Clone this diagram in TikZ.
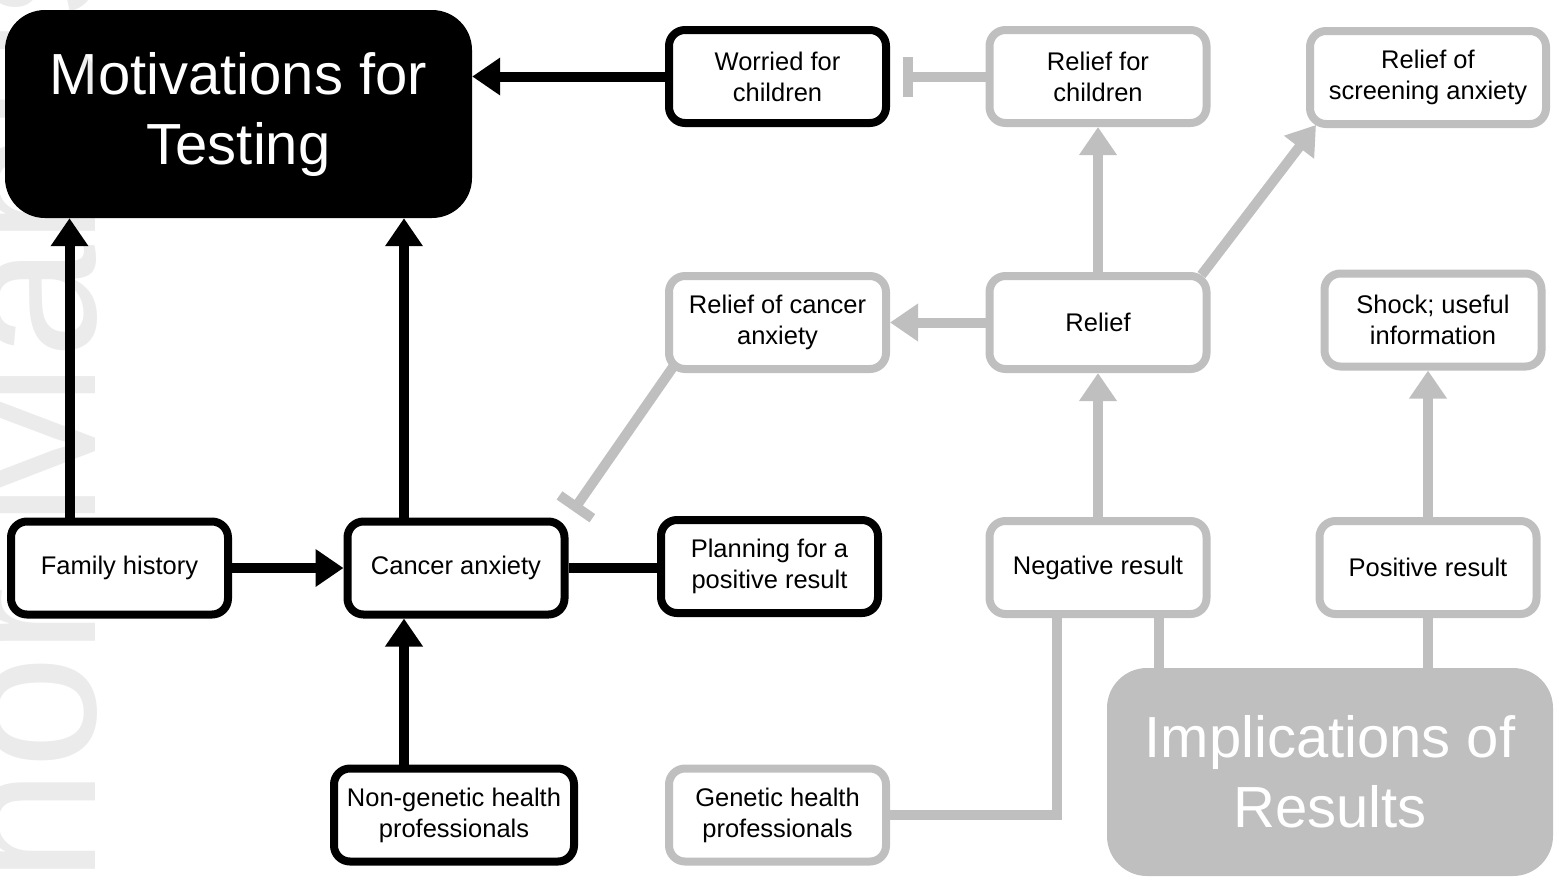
\documentclass[tikz,border=0pt]{standalone}
\usepackage{fontspec}
\setmainfont{Liberation Sans}
\usetikzlibrary{arrows.meta}
\definecolor{boxgray}{RGB}{191,191,191}

\begin{document}
\begin{tikzpicture}[x=1pt, y=-1pt]

        % --- Styles ---
        \tikzset{
            bigbox/.style={rounded corners=40pt, align=center, text=white, minimum width=467pt, minimum height=208pt, font=\fontsize{58}{70}\selectfont},
            box/.style={line width=8pt, rounded corners=16pt, fill=white, align=center, minimum width=217pt, minimum height=93pt, font=\fontsize{25.5}{31}\selectfont},
            blackbox/.style={box, draw=black},
            graybox/.style={box, draw=boxgray},
            % Styles des connecteurs
            blackarrow/.style={line width=10pt, draw=black, -{Triangle[length=28pt, width=36pt]}},
            blackline/.style={line width=10pt, draw=black},
            grayarrow/.style={line width=10pt, draw=boxgray, -{Triangle[length=28pt, width=36pt]}},
            grayline/.style={line width=10pt, draw=boxgray},
            grayblock/.style={line width=10pt, draw=boxgray, -{Bar[width=40pt]}}
        }

        \useasboundingbox (0,0) rectangle (1559,876);

        % --- Titres ---
        \node[bigbox, fill=black] (mot) at (238.5,114) {Motivations for\\Testing};
        \node[bigbox, fill=boxgray, minimum width=446pt] (impl) at (1330,772) {Implications of\\Results};

        % --- Boites du haut ---
        \node[blackbox] (worried) at (777.5,76.5) {Worried for\\children};
        \node[graybox] (relchild) at (1098,76.5) {Relief for\\children};
        \node[graybox, minimum width=236pt] (relscr) at (1428,77.5) {Relief of\\screening anxiety};

        % --- Boites du milieu ---
        \node[graybox] (rcanc) at (777.5,322.5) {Relief of cancer\\anxiety};
        \node[graybox] (relief) at (1098,322.5) {Relief};
        \node[graybox] (shock) at (1433,320) {Shock; useful\\information};

        % --- Boites du bas ---
        \node[blackbox] (fam) at (119.5,568) {Family history};
        \node[blackbox] (canc) at (456,568) {Cancer anxiety};
        \node[blackbox] (plan) at (769.5,566.5) {Planning for a\\positive result};
        \node[graybox] (neg) at (1098,567.5) {Negative result};
        \node[graybox] (pos) at (1428,567.5) {Positive result};
        \node[blackbox, minimum width=240pt] (nongen) at (454,815) {Non-genetic health\\professionals};
        \node[graybox] (gen) at (777.5,815) {Genetic health\\professionals};

        % --- Connecteurs noirs ---
        \draw[blackarrow] ([xshift=-50pt]fam.north) -- ([xshift=-50pt]fam.north |- mot.south);
        \draw[blackarrow] ([xshift=-52pt]canc.north) -- ([xshift=-52pt]canc.north |- mot.south);
        \draw[blackarrow] (fam.east) -- (canc.west);
        \draw[blackarrow] ([xshift=-50pt]nongen.north) -- ([xshift=-50pt]nongen.north |- canc.south);
        \draw[blackarrow] (worried.west) -- (worried.west -| mot.east);
        \draw[blackline] (canc.east) -- (canc.east -| plan.west);

        % --- Connecteurs gris ---
        \draw[grayblock, shorten >=13pt] (relchild.west) -- (worried.east);
        \draw[grayblock, shorten >=8pt] ([shift={(8,-6)}]rcanc.south west) -- (canc.north east);
        \draw[grayarrow] (relief.west) -- (rcanc.east);
        \draw[grayarrow] (relief.north) -- (relchild.south);
        \draw[grayarrow] ([shift={(-9,3)}]relief.north east) -- ([shift={(10,-3)}]relscr.south west);
        \draw[grayarrow] (neg.north) -- (relief.south);
        \draw[grayarrow] (pos.north) -- (pos.north |- shock.south);
        \draw[grayline] ([xshift=61pt]neg.south) -- ([xshift=61pt]neg.south |- impl.north);
        \draw[grayline] (pos.south) -- (pos.south |- impl.north);
        \draw[grayline] (gen.east) -| ([xshift=-41pt]neg.south);

        % --- Filigrane ---
        \node[rotate=90, anchor=base west, inner sep=0pt, text=black, opacity=0.08, font=\fontsize{205}{205}\selectfont] (wmark) at (95,1191) {Author Manuscript};

\end{tikzpicture}
\end{document}
